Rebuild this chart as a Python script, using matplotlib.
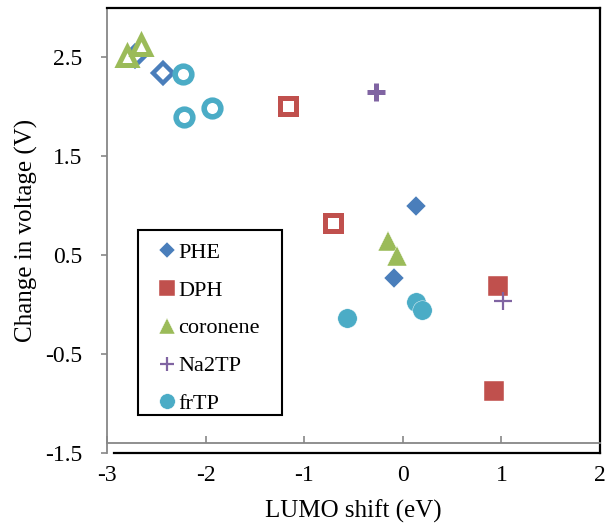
import matplotlib
matplotlib.use('Agg')
import matplotlib.pyplot as plt
from matplotlib.patches import Rectangle

plt.rcParams['font.family'] = ['Liberation Serif', 'DejaVu Serif']

# filled points (shown in legend)
phe_x = [0.13, -0.09]
phe_y = [1.00, 0.27]
dph_x = [0.97, 0.92]
dph_y = [0.19, -0.87]
cor_x = [-0.15, -0.06]
cor_y = [0.64, 0.49]
na_x = [1.02]
na_y = [0.04]
fr_x = [-0.57, 0.13, 0.19]
fr_y = [-0.13, 0.03, -0.05]

# open points
phe_open_x = [-2.72, -2.43]
phe_open_y = [2.51, 2.34]
dph_open_x = [-1.16, -0.71]
dph_open_y = [2.01, 0.83]
cor_open_x = [-2.80, -2.66]
cor_open_y = [2.51, 2.63]
na_open_x = [-0.27]
na_open_y = [2.15]
fr_open_x = [-2.23, -2.22, -1.94]
fr_open_y = [2.33, 1.90, 1.99]

names = ['PHE', 'DPH', 'coronene', 'Na2TP', 'frTP']
colors = ['#4A7EBB', '#C0504D', '#9BBB59', '#8064A2', '#4BACC6']

fig = plt.figure(figsize=(6.06, 5.23), dpi=100)
ax = fig.add_axes([107/606, 1-453/523, 493/606, 445/523])

# open markers
ax.plot(phe_open_x, phe_open_y, 'D', ms=10, mfc='white', mec=colors[0], mew=3.2, ls='none')
ax.plot(dph_open_x, dph_open_y, 's', ms=12, mfc='white', mec=colors[1], mew=3.6, ls='none')
ax.plot(cor_open_x, cor_open_y, '^', ms=13, mfc='white', mec=colors[2], mew=3.6, ls='none')
ax.plot(na_open_x, na_open_y, '+', ms=13, mec=colors[3], mew=3.6, ls='none')
ax.plot(fr_open_x, fr_open_y, 'o', ms=12, mfc='white', mec=colors[4], mew=4, ls='none')

# filled markers
ax.plot(phe_x, phe_y, 'D', ms=10, color=colors[0], mec='white', mew=0.3, ls='none', label=names[0])
ax.plot(dph_x, dph_y, 's', ms=14, color=colors[1], mec='white', mew=0.3, ls='none', label=names[1])
ax.plot(cor_x, cor_y, '^', ms=14, color=colors[2], mec='white', mew=0.3, ls='none', label=names[2])
ax.plot(na_x, na_y, '+', ms=13, color=colors[3], mew=1.6, ls='none', label=names[3])
ax.plot(fr_x, fr_y, 'o', ms=14, color=colors[4], mec='white', mew=0.3, ls='none', label=names[4])

ax.set_xlim(-3, 2)
ax.set_ylim(-1.5, 3.0)
ax.set_xticks([-3, -2, -1, 0, 1, 2])
ax.set_yticks([-1.5, -0.5, 0.5, 1.5, 2.5])
ax.set_yticklabels(['-1.5', '-0.5', '0.5', '1.5', '2.5'])
ax.set_xticklabels(['-3', '-2', '-1', '0', '1', '2'])

gray = '#878787'
ax.spines['left'].set_color(gray)
ax.spines['left'].set_linewidth(1.3)
ax.spines['bottom'].set_position(('data', -1.4))
ax.spines['bottom'].set_color(gray)
ax.spines['bottom'].set_linewidth(1.3)
for s in ['top', 'right']:
    ax.spines[s].set_color('black')
    ax.spines[s].set_linewidth(1.6)
ax.plot([0.014, 1], [0, 0], color='black', lw=1.6, transform=ax.transAxes, clip_on=False)

ax.tick_params(axis='y', direction='out', length=4, width=1.2, color=gray, pad=14, labelsize=17)
ax.tick_params(axis='x', direction='in', length=5, width=1.2, color=gray, pad=16, labelsize=17)

fig.text(26/606, 1-230/523, 'Change in voltage (V)', rotation=90, ha='center', va='center', fontsize=18)
fig.text(353/606, 1-511/523, 'LUMO shift (eV)', ha='center', va='center', fontsize=18)

# legend box drawn separately, legend itself frameless
ax.add_patch(Rectangle((0.063, 0.085), 0.292, 0.416, transform=ax.transAxes,
                       facecolor='white', edgecolor='black', lw=1.5, zorder=4))
leg = ax.legend(loc='upper left', bbox_to_anchor=(0.099, 0.474), borderaxespad=0,
                fontsize=16, frameon=False, handlelength=1.0, handletextpad=0.0,
                borderpad=0, labelspacing=0.78, markerscale=0.8)
leg.set_zorder(5)

fig.savefig('out.png', dpi=100)
